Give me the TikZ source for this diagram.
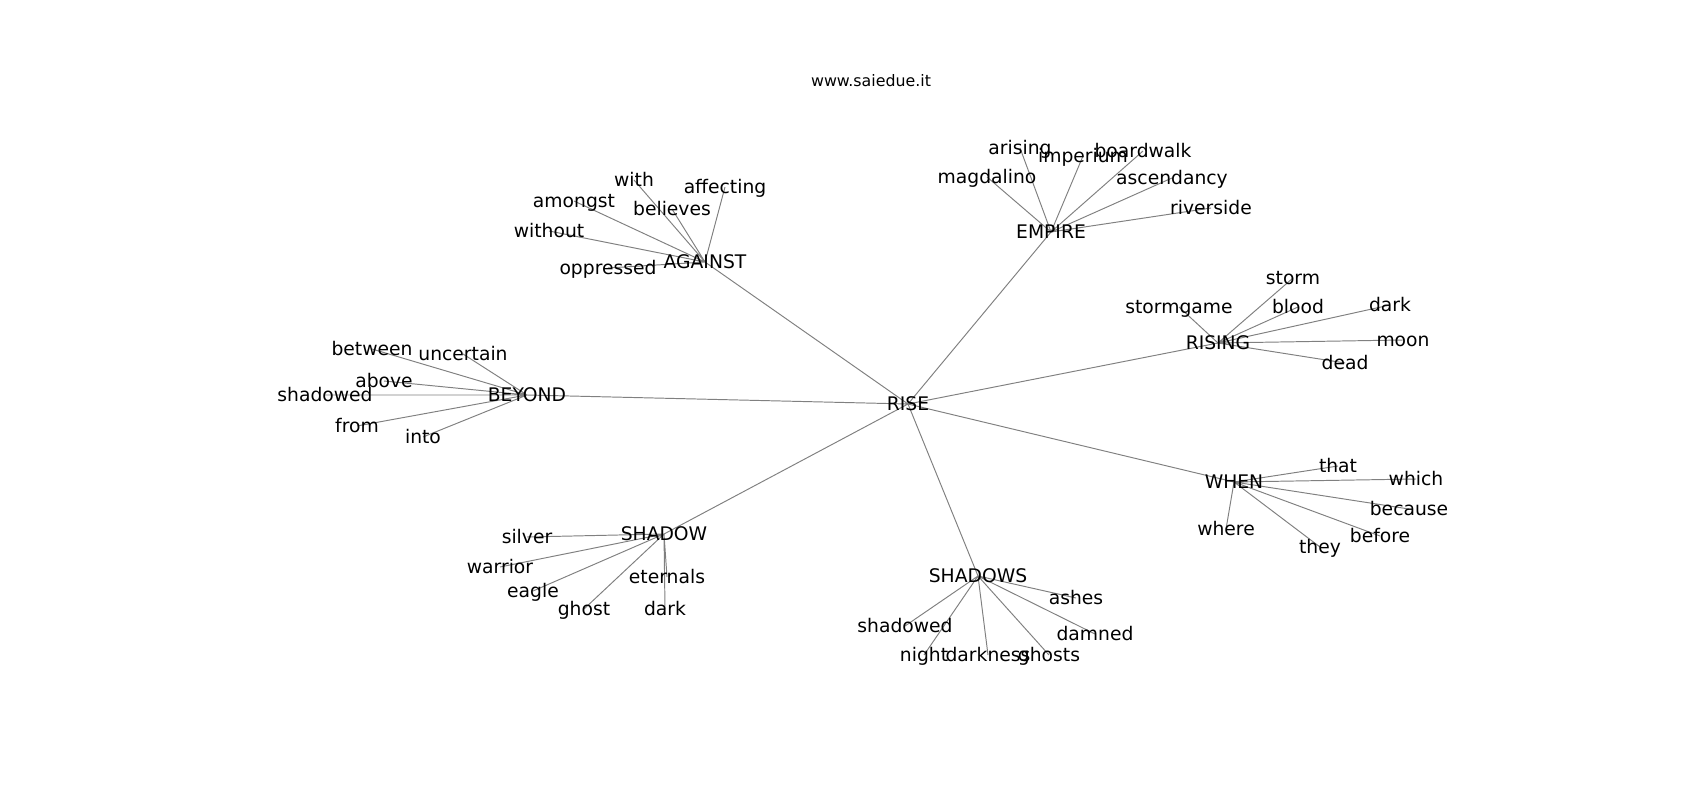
\documentclass[tikz,border=0pt]{standalone}
\usepackage{fontspec}
\setmainfont{DejaVu Sans}
\usepackage{tikz}
\pgfdeclarelayer{bg}
\pgfsetlayers{bg,main}

\begin{document}
\begin{tikzpicture}[x=0.02cm, y=-0.02cm,
        word/.style={inner sep=0pt, text height=7.9pt, text depth=0pt, font=\fontsize{10.66}{12}\selectfont},
        link/.style={draw=gray, line width=0.55pt}]
        \useasboundingbox (0,0) rectangle (1700,800);
        \node[font=\fontsize{9}{11}\selectfont] (title) at (871,81) {www.saiedue.it};

        % hubs
        \node[word] (rise) at (908,404) {RISE};
        \node[word] (against) at (705,262) {AGAINST};
        \node[word] (empire) at (1051,232) {EMPIRE};
        \node[word] (rising) at (1218,343) {RISING};
        \node[word] (beyond) at (527,395) {BEYOND};
        \node[word] (when) at (1234,482) {WHEN};
        \node[word] (shadow) at (664,534) {SHADOW};
        \node[word] (shadows) at (978,576) {SHADOWS};

        % against
        \node[word] (with) at (634,180) {with};
        \node[word] (affecting) at (725,187) {affecting};
        \node[word] (amongst) at (574,201) {amongst};
        \node[word] (believes) at (672,209) {believes};
        \node[word] (without) at (549,231) {without};
        \node[word] (oppressed) at (608,268) {oppressed};

        % empire
        \node[word] (arising) at (1020,148) {arising};
        \node[word] (imperium) at (1083,156) {imperium};
        \node[word] (boardwalk) at (1143,151) {boardwalk};
        \node[word] (magdalino) at (987,177) {magdalino};
        \node[word] (ascendancy) at (1172,178) {ascendancy};
        \node[word] (riverside) at (1211,208) {riverside};

        % rising
        \node[word] (storm) at (1293,278) {storm};
        \node[word] (stormgame) at (1179,307) {stormgame};
        \node[word] (blood) at (1298,307) {blood};
        \node[word] (dark1) at (1390,305) {dark};
        \node[word] (moon) at (1403,340) {moon};
        \node[word] (dead) at (1345,363) {dead};

        % beyond
        \node[word] (between) at (372,349) {between};
        \node[word] (uncertain) at (463,354) {uncertain};
        \node[word] (above) at (384,381) {above};
        \node[word] (shadowed1) at (325,395) {shadowed};
        \node[word] (from) at (357,426) {from};
        \node[word] (into) at (423,437) {into};

        % when
        \node[word] (that) at (1338,466) {that};
        \node[word] (which) at (1416,479) {which};
        \node[word] (because) at (1409,509) {because};
        \node[word] (where) at (1226,529) {where};
        \node[word] (before) at (1380,536) {before};
        \node[word] (they) at (1320,547) {they};

        % shadow
        \node[word] (silver) at (527,537) {silver};
        \node[word] (warrior) at (500,567) {warrior};
        \node[word] (eternals) at (667,577) {eternals};
        \node[word] (eagle) at (533,591) {eagle};
        \node[word] (ghost) at (584,609) {ghost};
        \node[word] (dark2) at (665,609) {dark};

        % shadows
        \node[word] (ashes) at (1076,598) {ashes};
        \node[word] (shadowed2) at (905,626) {shadowed};
        \node[word] (damned) at (1095,634) {damned};
        \node[word] (night) at (924,655) {night};
        \node[word] (darkness) at (988,655) {darkness};
        \node[word] (ghosts) at (1049,655) {ghosts};

        \begin{pgfonlayer}{bg}
            \draw[link] (rise.center) -- (against.center) (rise.center) -- (empire.center)
                (rise.center) -- (rising.center) (rise.center) -- (beyond.center)
                (rise.center) -- (when.center) (rise.center) -- (shadow.center)
                (rise.center) -- (shadows.center); %center
            \draw[link] (against.center) -- (with.center) (against.center) -- (affecting.center)
                (against.center) -- (amongst.center) (against.center) -- (believes.center)
                (against.center) -- (without.center) (against.center) -- (oppressed.center); %against
            \draw[link] (empire.center) -- (arising.center) (empire.center) -- (imperium.center)
                (empire.center) -- (boardwalk.center) (empire.center) -- (magdalino.center)
                (empire.center) -- (ascendancy.center) (empire.center) -- (riverside.center); %empire
            \draw[link] (rising.center) -- (storm.center) (rising.center) -- (stormgame.center)
                (rising.center) -- (blood.center) (rising.center) -- (dark1.center)
                (rising.center) -- (moon.center) (rising.center) -- (dead.center); %rising
            \draw[link] (beyond.center) -- (between.center) (beyond.center) -- (uncertain.center)
                (beyond.center) -- (above.center) (beyond.center) -- (shadowed1.center)
                (beyond.center) -- (from.center) (beyond.center) -- (into.center); %beyond
            \draw[link] (when.center) -- (that.center) (when.center) -- (which.center)
                (when.center) -- (because.center) (when.center) -- (where.center)
                (when.center) -- (before.center) (when.center) -- (they.center); %when
            \draw[link] (shadow.center) -- (silver.center) (shadow.center) -- (warrior.center)
                (shadow.center) -- (eternals.center) (shadow.center) -- (eagle.center)
                (shadow.center) -- (ghost.center) (shadow.center) -- (dark2.center); %shadow
            \draw[link] (shadows.center) -- (ashes.center) (shadows.center) -- (shadowed2.center)
                (shadows.center) -- (damned.center) (shadows.center) -- (night.center)
                (shadows.center) -- (darkness.center) (shadows.center) -- (ghosts.center); %shadows
        \end{pgfonlayer}
    \end{tikzpicture}
\end{document}
